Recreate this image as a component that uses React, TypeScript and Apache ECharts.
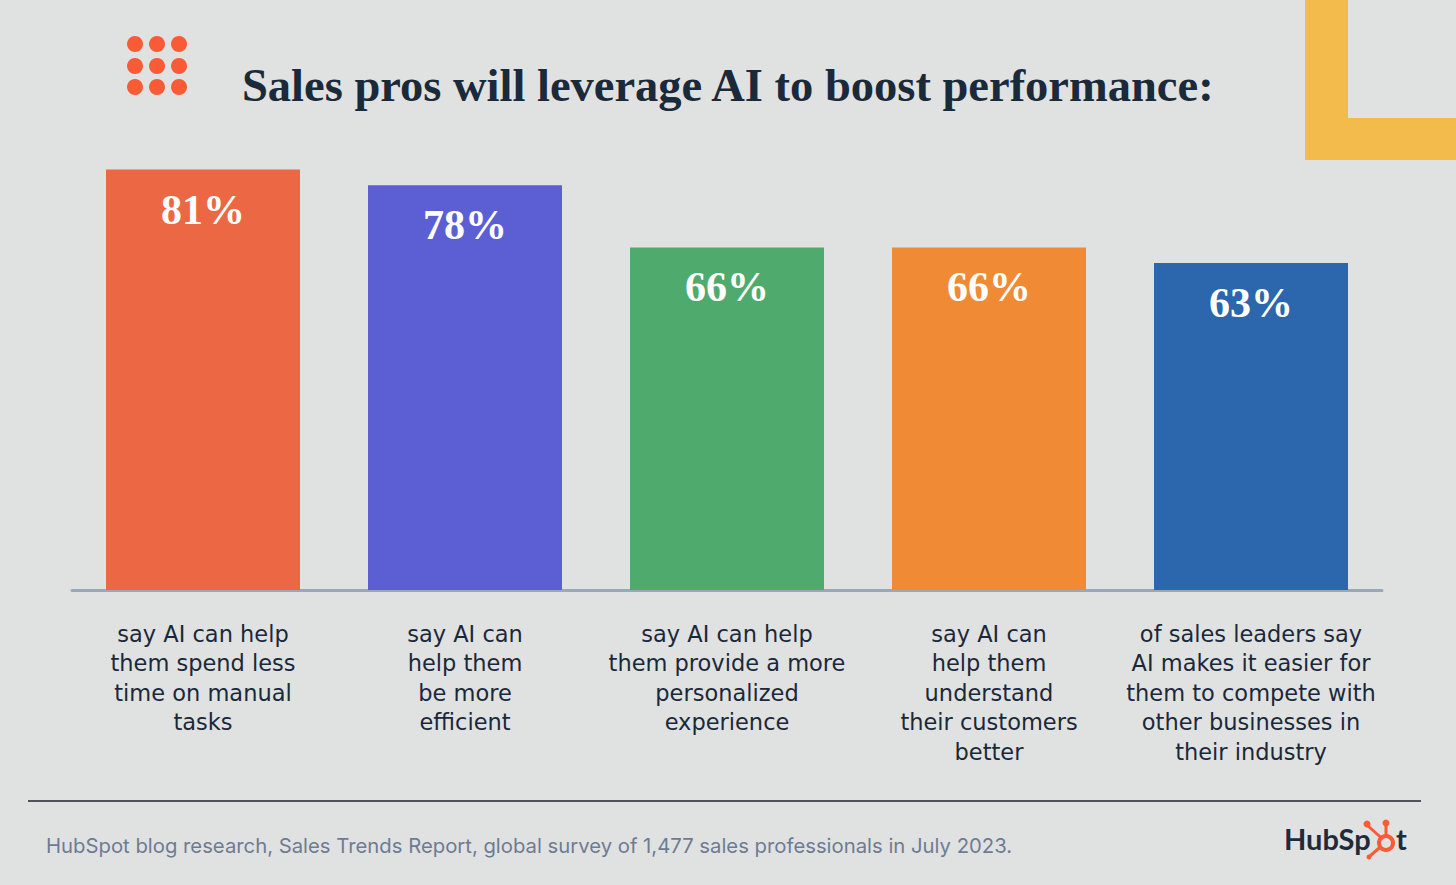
import React, { useEffect, useRef } from "react";
import * as echarts from "echarts";

const categories = [
  "say AI can help\nthem spend less\ntime on manual\ntasks",
  "say AI can\nhelp them\nbe more\nefficient",
  "say AI can help\nthem provide a more\npersonalized\nexperience",
  "say AI can\nhelp them\nunderstand\ntheir customers\nbetter",
  "of sales leaders say\nAI makes it easier for\nthem to compete with\nother businesses in\ntheir industry",
];
const values = [81, 78, 66, 66, 63];
const barColors = ["#ec6743", "#5c5fd4", "#4fab6d", "#f08a35", "#2c66ad"];
const title = "Sales pros will leverage AI to boost performance:";
const footer =
  "HubSpot blog research, Sales Trends Report, global survey of 1,477 sales professionals in July 2023.";

export default function App() {
  const ref = useRef<HTMLDivElement>(null);
  useEffect(() => {
    if (!ref.current) return;
    const chart = echarts.init(ref.current, null, { renderer: "svg" });
    const dots: any[] = [];
    [135, 157, 179].forEach((cx) =>
      [44, 66, 87].forEach((cy) =>
        dots.push({
          type: "circle",
          shape: { cx, cy, r: 8 },
          style: { fill: "#fa5b37" },
        })
      )
    );
    chart.setOption({
      animation: false,
      backgroundColor: "#e0e2e1",
      grid: { left: 72, right: 74, top: 71, bottom: 295 },
      xAxis: {
        type: "category",
        data: categories,
        axisLine: { lineStyle: { color: "#9ba6b6", width: 3 } },
        axisTick: { show: false },
        axisLabel: {
          interval: 0,
          margin: 29,
          fontSize: 22.5,
          lineHeight: 29.5,
          color: "#1b2839",
          fontFamily: "DejaVu Sans",
          align: "center",
        },
      },
      yAxis: { type: "value", min: 0, max: 100, show: false, splitLine: { show: false } },
      series: [
        {
          type: "bar",
          barWidth: 194,
          data: values.map((v, i) => ({ value: v, itemStyle: { color: barColors[i] } })),
          label: {
            show: true,
            position: "insideTop",
            distance: 19,
            formatter: "{c}%",
            color: "#ffffff",
            fontSize: 42,
            fontWeight: "bold",
            fontFamily: "Liberation Serif",
          },
        },
      ],
      graphic: [
        ...dots,
        {
          type: "polygon",
          shape: {
            points: [
              [1305, 0],
              [1348, 0],
              [1348, 118],
              [1456, 118],
              [1456, 160],
              [1305, 160],
            ],
          },
          style: { fill: "#f3bb4b" },
        },
        {
          type: "text",
          x: 242,
          y: 85,
          style: {
            text: title,
            fill: "#1b2a3a",
            font: "bold 46.5px 'Liberation Serif'",
            textVerticalAlign: "middle",
          },
        },
        {
          type: "line",
          shape: { x1: 28, y1: 801, x2: 1421, y2: 801 },
          style: { stroke: "#4f5457", lineWidth: 2 },
        },
        {
          type: "text",
          x: 46,
          y: 845,
          style: {
            text: footer,
            fill: "#6e7b93",
            font: "20.3px Inter",
            textVerticalAlign: "middle",
          },
        },
        {
          type: "text",
          x: 1284,
          y: 838,
          style: {
            text: "HubSp",
            fill: "#1d2b3b",
            font: "bold 29px Lato",
            textVerticalAlign: "middle",
          },
        },
        {
          type: "text",
          x: 1396,
          y: 838,
          style: {
            text: "t",
            fill: "#1d2b3b",
            font: "bold 29px Lato",
            textVerticalAlign: "middle",
          },
        },
        {
          type: "line",
          shape: { x1: 1386, y1: 842, x2: 1386, y2: 825 },
          style: { stroke: "#fa5b37", lineWidth: 3 },
        },
        {
          type: "line",
          shape: { x1: 1386, y1: 842, x2: 1368, y2: 826 },
          style: { stroke: "#fa5b37", lineWidth: 3 },
        },
        {
          type: "line",
          shape: { x1: 1386, y1: 842, x2: 1370, y2: 856 },
          style: { stroke: "#fa5b37", lineWidth: 3 },
        },
        {
          type: "circle",
          shape: { cx: 1386, cy: 843, r: 7 },
          style: { fill: "#e0e2e1", stroke: "#fa5b37", lineWidth: 4 },
        },
        {
          type: "circle",
          shape: { cx: 1386, cy: 823, r: 3.5 },
          style: { fill: "#fa5b37" },
        },
        {
          type: "circle",
          shape: { cx: 1367, cy: 824, r: 3.5 },
          style: { fill: "#fa5b37" },
        },
        {
          type: "circle",
          shape: { cx: 1369, cy: 857, r: 2.5 },
          style: { fill: "#fa5b37" },
        },
      ],
    });
    return () => chart.dispose();
  }, []);
  return (
    <div
      ref={ref}
      style={{ position: "fixed", left: 0, top: 0, width: 1456, height: 885 }}
    />
  );
}
